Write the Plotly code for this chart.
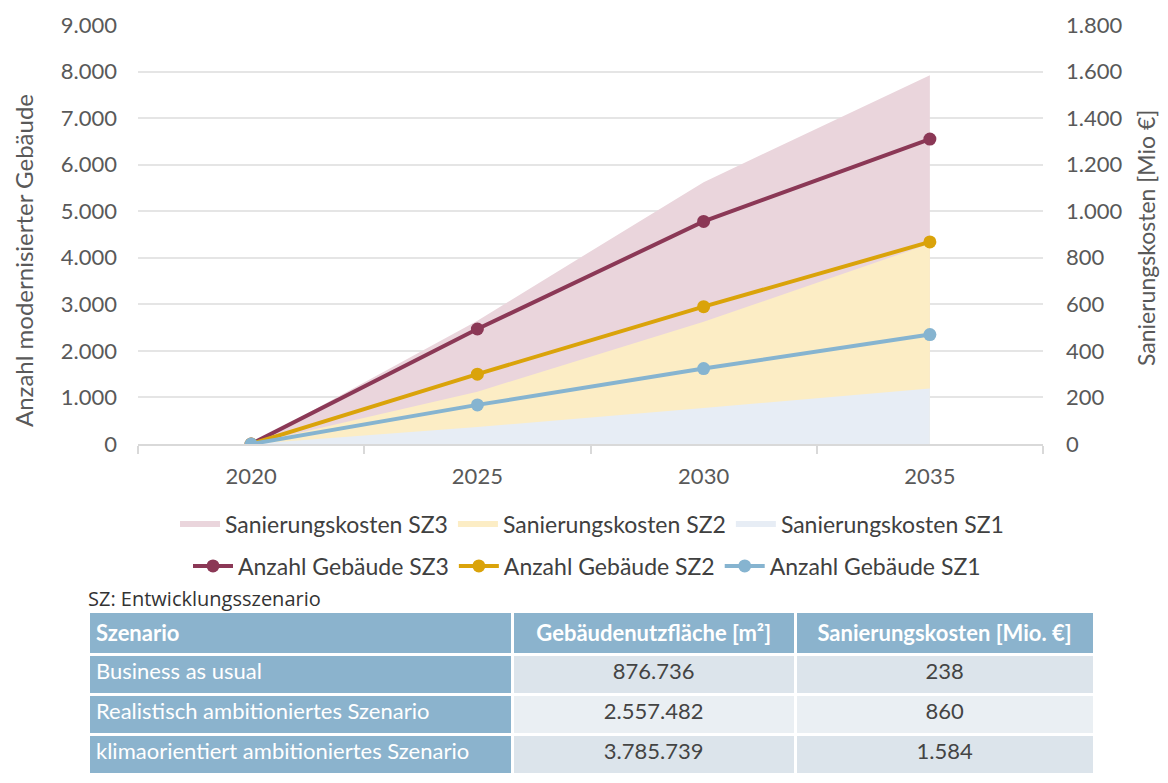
import plotly.graph_objects as go

# The page body adds an 8px margin on every side; the figure is sized so the page
# never overflows the 1168x783 window.
OFF = 8
W, H = 1168 - 2 * OFF, 783 - 2 * OFF

# ---------------- data ----------------
years = [2020, 2025, 2030, 2035]
gebaeude_sz3 = [0, 2470, 4780, 6550]
gebaeude_sz2 = [0, 1500, 2950, 4340]
gebaeude_sz1 = [0, 840, 1620, 2350]
kosten_sz3 = [0, 530, 1125, 1584]
kosten_sz2 = [0, 225, 525, 860]
kosten_sz1 = [0, 73, 155, 238]

left_ticks = [0, 1000, 2000, 3000, 4000, 5000, 6000, 7000, 8000, 9000]
right_ticks = [0, 200, 400, 600, 800, 1000, 1200, 1400, 1600, 1800]

table_header = ["Szenario", "Gebäudenutzfläche [m²]", "Sanierungskosten [Mio. €]"]
table_szenario = ["Business as usual", "Realistisch ambitioniertes Szenario",
                  "klimaorientiert ambitioniertes Szenario"]
table_flaeche = ["876.736", "2.557.482", "3.785.739"]
table_kosten = ["238", "860", "1.584"]

# ---------------- styles ----------------
C_MAROON, C_YELLOW, C_BLUE = "#8B3856", "#DAA30A", "#86B4D0"
F_MAROON, F_YELLOW, F_BLUE = "#EAD5DC", "#FCEDC5", "#E7EDF5"
GRAY = "#595959"
FONT = "Lato"

# plot-area geometry (reference pixels)
PL, PR, PT, PB = 138, 1043, 25, 444


def px_x(p):
    return (p - OFF) / W


def px_y(p):
    return 1 - (p - OFF) / H


fig = go.Figure()

# cost areas (primary y axis, right side)
for name, vals, fc in [("Sanierungskosten SZ3", kosten_sz3, F_MAROON),
                       ("Sanierungskosten SZ2", kosten_sz2, F_YELLOW),
                       ("Sanierungskosten SZ1", kosten_sz1, F_BLUE)]:
    fig.add_trace(go.Scatter(x=years, y=vals, name=name, mode="none",
                             fill="tozeroy", fillcolor=fc, yaxis="y",
                             legend="legend", hoverinfo="skip"))

# building counts (secondary y axis, left side)
for name, vals, lc in [("Anzahl Gebäude SZ3", gebaeude_sz3, C_MAROON),
                       ("Anzahl Gebäude SZ2", gebaeude_sz2, C_YELLOW),
                       ("Anzahl Gebäude SZ1", gebaeude_sz1, C_BLUE)]:
    fig.add_trace(go.Scatter(x=years, y=vals, name=name, mode="lines+markers",
                             line=dict(color=lc, width=4),
                             marker=dict(color=lc, size=13),
                             yaxis="y2", legend="legend2"))

# table
hdr_blue = "#8BB3CD"
row_a, row_b = "#DCE4EB", "#EAEFF3"
fig.add_trace(go.Table(
    domain=dict(x=[px_x(88), px_x(1094)], y=[0, px_y(611)]),
    columnwidth=[423, 282, 298],
    header=dict(values=["<b>%s</b>" % h for h in table_header],
                fill_color=hdr_blue,
                line=dict(color="white", width=3),
                align=["left", "center", "center"],
                font=dict(family=FONT, size=22, color="white"),
                height=43),
    cells=dict(values=[table_szenario, table_flaeche, table_kosten],
               fill_color=[[hdr_blue] * 3, [row_a, row_b, row_a], [row_a, row_b, row_a]],
               line=dict(color="white", width=3),
               align=["left", "center", "center"],
               font=dict(family=FONT, size=22, color=["white", "#444444", "#444444"]),
               height=40),
))

fig.update_layout(
    width=W, height=H,
    margin=dict(l=0, r=0, t=0, b=0, autoexpand=False),
    paper_bgcolor="white", plot_bgcolor="white",
    separators=",.",
    font=dict(family=FONT, color=GRAY),
    xaxis=dict(domain=[px_x(PL), px_x(PR)], range=[2017.5, 2037.5],
               tickvals=years, ticktext=[str(y) for y in years],
               ticks="", showgrid=False, zeroline=False,
               showline=True, linecolor="#D9D9D9", linewidth=1.5,
               tickfont=dict(family=FONT, size=22, color=GRAY),
               ticklabelstandoff=12,
               minor=dict(tick0=2017.5, dtick=5, ticks="outside", ticklen=8,
                          tickcolor="#D9D9D9", tickwidth=1.5, showgrid=False)),
    yaxis=dict(domain=[px_y(PB), px_y(PT)], range=[0, 1800], side="right",
               tickvals=right_ticks, tickformat=",.0f",
               showgrid=True, gridcolor="#E5E5E5", gridwidth=1.5,
               zeroline=False, ticks="", showline=False,
               tickfont=dict(family=FONT, size=22, color=GRAY),
               ticklabelstandoff=22),
    yaxis2=dict(domain=[px_y(PB), px_y(PT)], range=[0, 9000], side="left",
                overlaying="y", anchor="x",
                tickvals=left_ticks, tickformat=",.0f",
                showgrid=False, zeroline=False, ticks="", showline=False,
                tickfont=dict(family=FONT, size=22, color=GRAY),
                ticklabelstandoff=20),
    legend=dict(orientation="h", x=px_x(592), xanchor="center",
                y=px_y(524), yanchor="middle",
                font=dict(family=FONT, size=23, color="#404040"),
                bgcolor="rgba(0,0,0,0)", itemwidth=40),
    legend2=dict(orientation="h", x=px_x(587), xanchor="center",
                 y=px_y(566), yanchor="middle",
                 font=dict(family=FONT, size=23, color="#404040"),
                 bgcolor="rgba(0,0,0,0)", itemwidth=40),
    showlegend=True,
    annotations=[
        dict(text="Anzahl modernisierter Gebäude", x=px_x(23), y=px_y(261),
             xref="paper", yref="paper", textangle=-90, showarrow=False,
             xanchor="center", yanchor="middle",
             font=dict(family=FONT, size=24, color=GRAY)),
        dict(text="Sanierungskosten [Mio €]", x=px_x(1146), y=px_y(238),
             xref="paper", yref="paper", textangle=-90, showarrow=False,
             xanchor="center", yanchor="middle",
             font=dict(family=FONT, size=23, color=GRAY)),
        dict(text="SZ: Entwicklungsszenario", x=px_x(86), y=px_y(598),
             xref="paper", yref="paper", showarrow=False,
             xanchor="left", yanchor="middle",
             font=dict(family="Open Sans", size=20, color="#333333")),
    ],
)

fig.write_html("out.html")
